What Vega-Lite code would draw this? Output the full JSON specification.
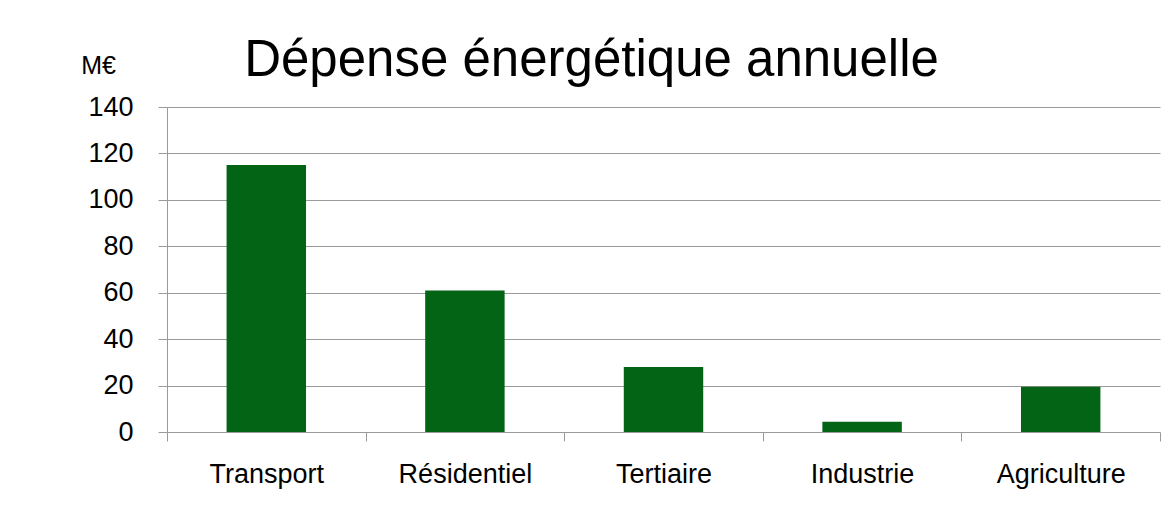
{
  "$schema": "https://vega.github.io/schema/vega-lite/v6.json",
  "autosize": "none",
  "width": 993,
  "height": 325,
  "padding": {"left": 167, "top": 107, "right": 9, "bottom": 76},
  "background": "white",
  "title": {
    "text": "Dépense énergétique annuelle",
    "font": "Liberation Sans",
    "fontSize": 51,
    "fontWeight": "normal",
    "color": "#000000",
    "anchor": "middle",
    "frame": "group",
    "dx": -72,
    "offset": -34
  },
  "data": {
    "values": [
      {"secteur": "Transport", "depense": 115},
      {"secteur": "Résidentiel", "depense": 61},
      {"secteur": "Tertiaire", "depense": 28},
      {"secteur": "Industrie", "depense": 4.4},
      {"secteur": "Agriculture", "depense": 19.5}
    ]
  },
  "mark": {"type": "bar", "color": "#046416", "width": {"band": 0.4}},
  "encoding": {
    "x": {
      "field": "secteur",
      "type": "nominal",
      "sort": null,
      "scale": {"paddingInner": 0, "paddingOuter": 0},
      "axis": {
        "title": null,
        "labelAngle": 0,
        "labelFont": "Liberation Sans",
        "labelFontSize": 27,
        "labelColor": "#000000",
        "labelPadding": 20,
        "tickBand": "extent",
        "tickSize": 9,
        "tickColor": "#9a9a9a",
        "domain": false,
        "grid": false
      }
    },
    "y": {
      "field": "depense",
      "type": "quantitative",
      "scale": {"domain": [0, 140], "nice": false},
      "axis": {
        "values": [0, 20, 40, 60, 80, 100, 120, 140],
        "title": "M€",
        "titleAngle": 0,
        "titleFont": "Liberation Sans",
        "titleFontSize": 25,
        "titleFontWeight": "normal",
        "titleColor": "#000000",
        "titleAlign": "center",
        "titleBaseline": "alphabetic",
        "titleX": -69,
        "titleY": -34,
        "labelFont": "Liberation Sans",
        "labelFontSize": 27,
        "labelColor": "#000000",
        "labelPadding": 25,
        "tickSize": 9,
        "tickColor": "#9a9a9a",
        "domainColor": "#9a9a9a",
        "gridColor": "#9a9a9a",
        "grid": true
      }
    }
  },
  "config": {
    "view": {"stroke": null}
  }
}
